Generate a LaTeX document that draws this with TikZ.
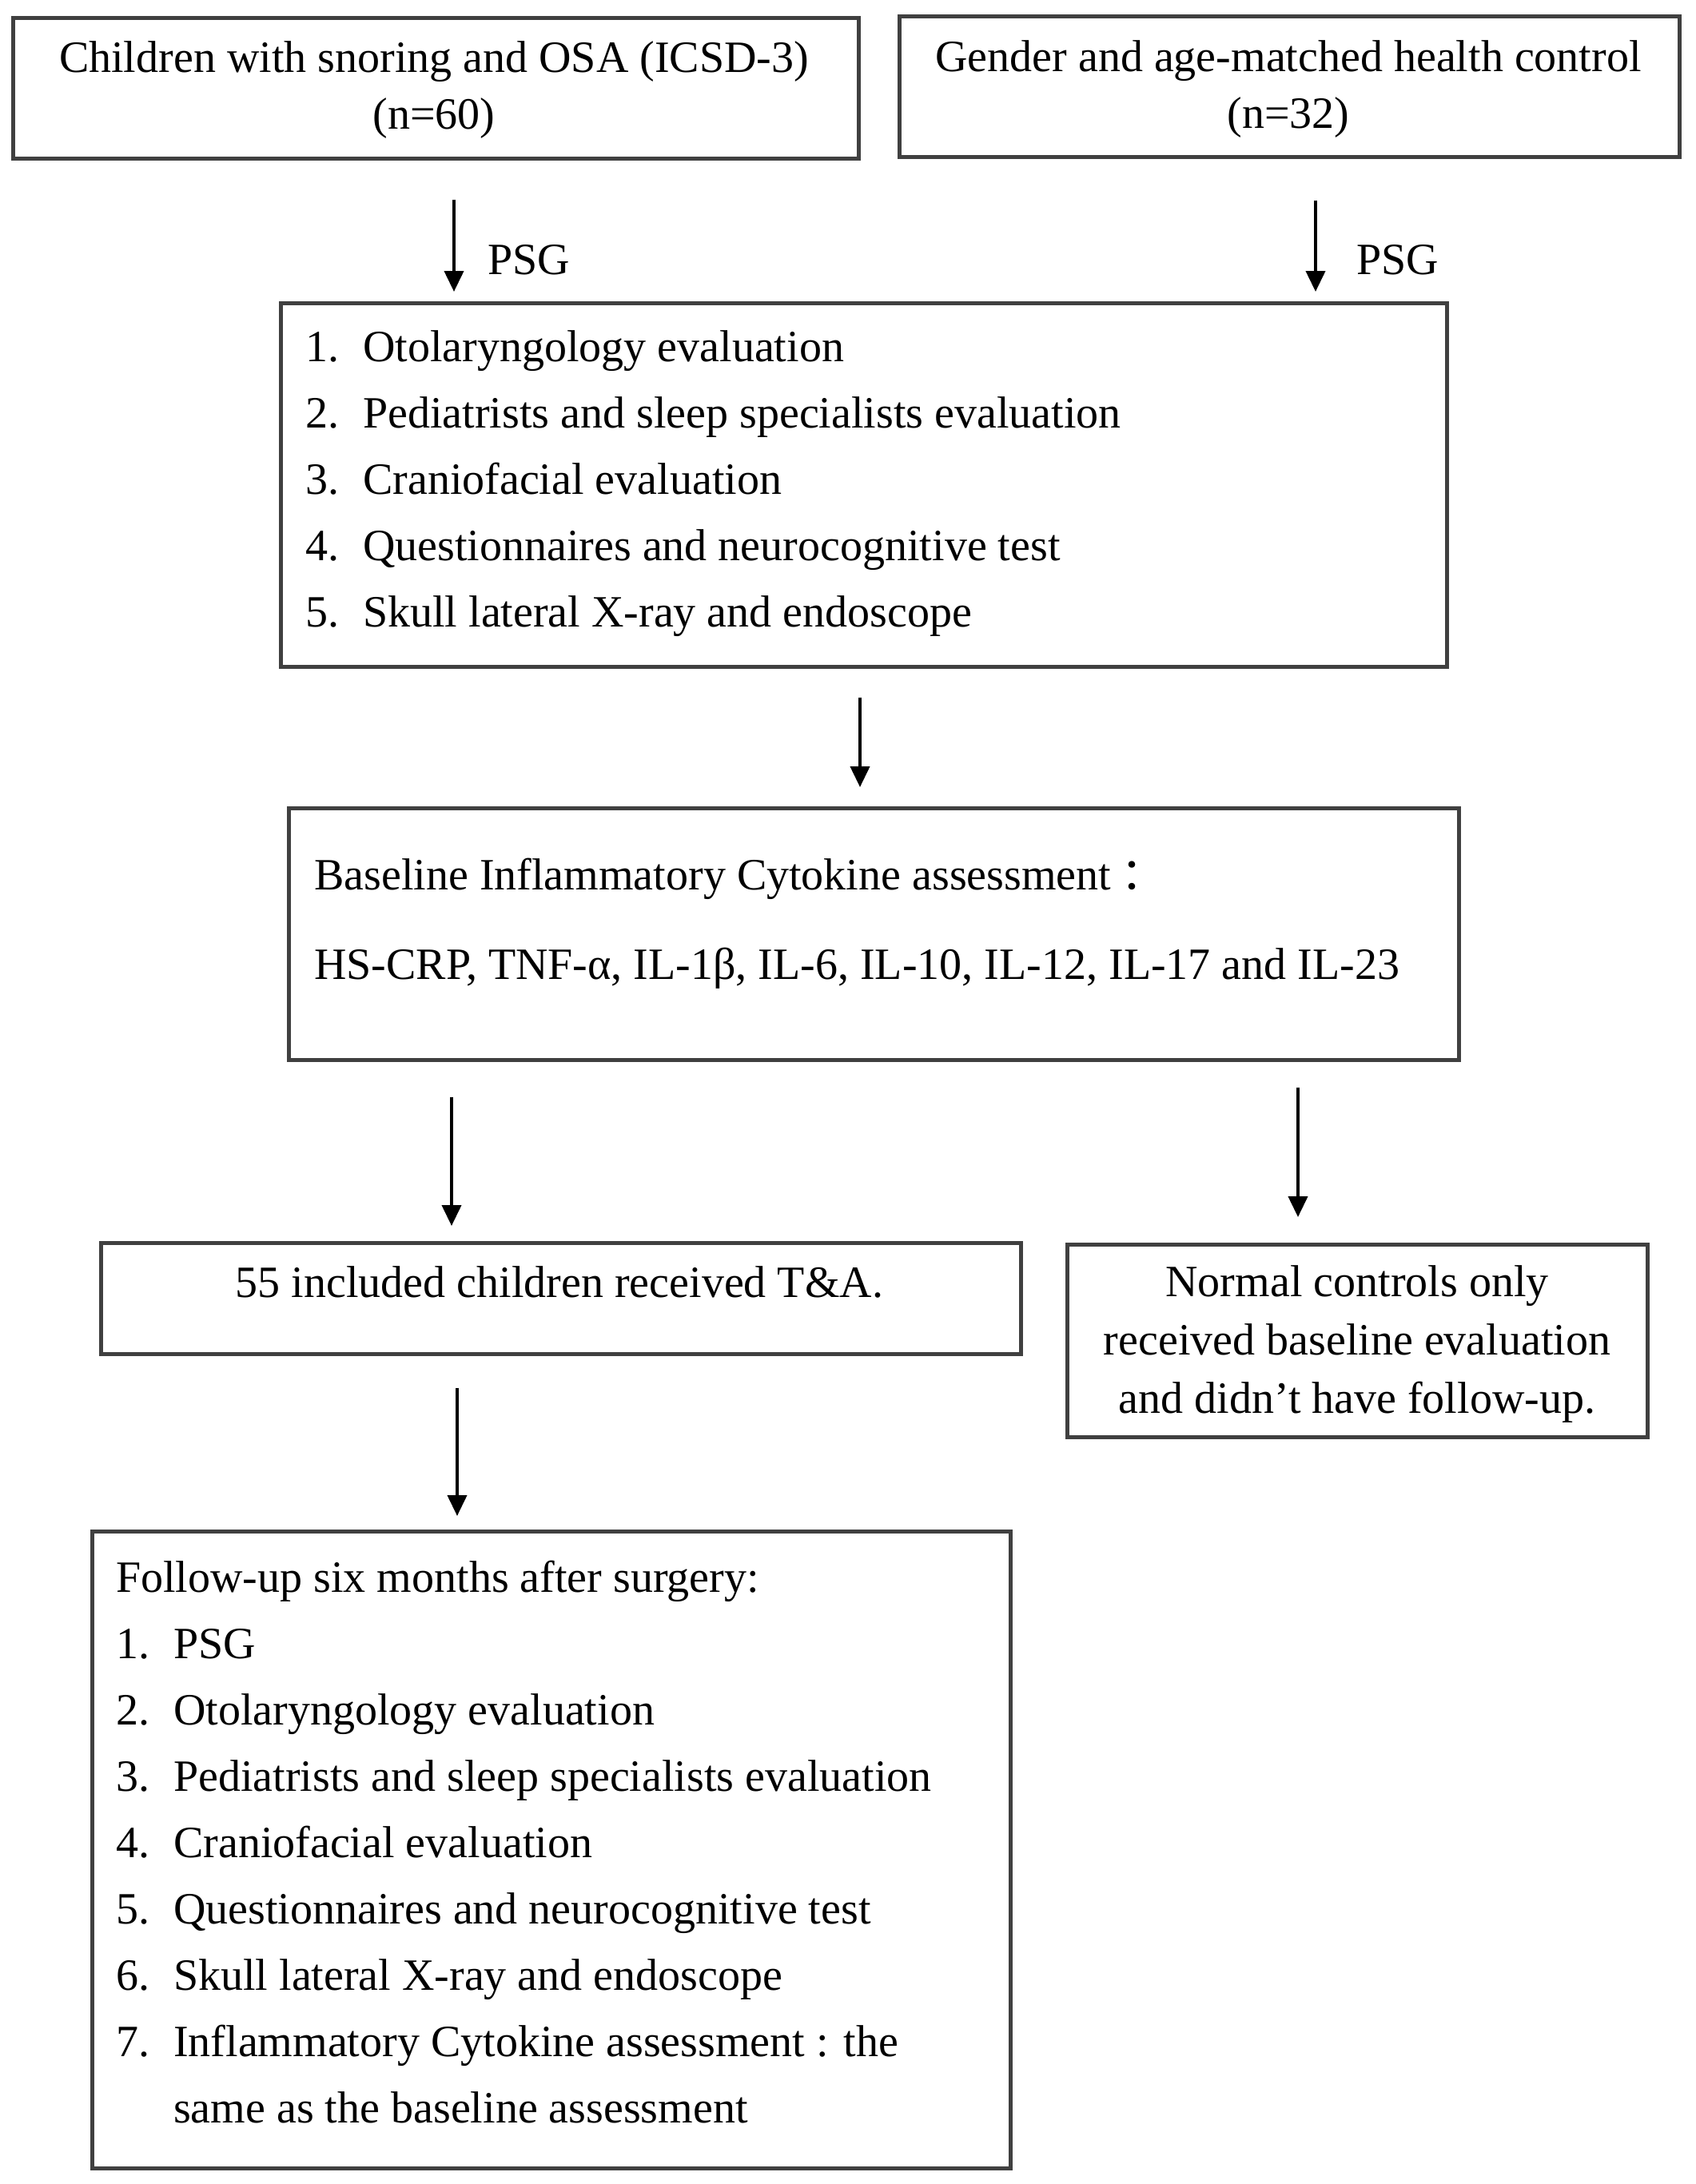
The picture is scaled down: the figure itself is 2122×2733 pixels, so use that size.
\documentclass[tikz,border=0pt]{standalone}
\usepackage{fontspec}
\setmainfont{Liberation Serif}
\newfontfamily\cjkfont{Noto Sans CJK SC}
\usetikzlibrary{arrows.meta}
\begin{document}
\begin{tikzpicture}[x=1pt,y=-1pt,
  box/.style={draw=black!75, line width=4.5pt, inner sep=0pt, anchor=north west},
  txt/.style={inner sep=0pt, font=\fontsize{56}{83}\selectfont},
  arr/.style={draw=black, line width=4pt, -{Triangle[length=26pt,width=24pt]}},
]
\useasboundingbox (0,0) rectangle (2122,2733);

% boxes
\node[box, minimum width=1058pt, minimum height=176pt] (A) at (14,20) {};
\node[box, minimum width=976pt, minimum height=176pt] (B) at (1123,18) {};
\node[box, minimum width=1459pt, minimum height=455pt] (C) at (349,377) {};
\node[box, minimum width=1464pt, minimum height=315pt] (D) at (359,1009) {};
\node[box, minimum width=1151pt, minimum height=139pt] (E) at (124,1553) {};
\node[box, minimum width=726pt, minimum height=241pt] (F) at (1333,1555) {};
\node[box, minimum width=1149pt, minimum height=797pt] (G) at (113,1914) {};

% texts
\node[txt, font=\fontsize{56}{71}\selectfont, anchor=base] (At) at (543,90)
  {\begin{tabular}[t]{@{}c@{}}Children with snoring and OSA (ICSD-3)\\(n=60)\end{tabular}};
\node[txt, font=\fontsize{56}{71}\selectfont, anchor=base] (Bt) at (1612,89)
  {\begin{tabular}[t]{@{}c@{}}Gender and age-matched health control\\(n=32)\end{tabular}};

\node[txt, anchor=base west] (Ct) at (382,452)
  {\begin{tabular}[t]{@{}p{72pt}@{}l@{}}
   1.&Otolaryngology evaluation\\
   2.&Pediatrists and sleep specialists evaluation\\
   3.&Craniofacial evaluation\\
   4.&Questionnaires and neurocognitive test\\
   5.&Skull lateral X-ray and endoscope
   \end{tabular}};

\node[txt, anchor=base west] (Dt) at (393,1113)
  {\begin{tabular}[t]{@{}l@{}}
   Baseline Inflammatory Cytokine assessment\hspace{12pt}{\cjkfont ：}\\[29pt]
   HS-CRP, TNF-α, IL-1β, IL-6, IL-10, IL-12, IL-17 and IL-23
   \end{tabular}};

\node[txt, anchor=base] (Et) at (700,1623) {55 included children received T\&A.};

\node[txt, font=\fontsize{56}{73}\selectfont, anchor=base] (Ft) at (1698,1622)
  {\begin{tabular}[t]{@{}c@{}}Normal controls only\\received baseline evaluation\\and didn’t have follow-up.\end{tabular}};

\node[txt, anchor=base west] (Gt) at (145,1992)
  {\begin{tabular}[t]{@{}p{72pt}@{}l@{}}
   \multicolumn{2}{@{}l@{}}{Follow-up six months after surgery:}\\
   1.&PSG\\
   2.&Otolaryngology evaluation\\
   3.&Pediatrists and sleep specialists evaluation\\
   4.&Craniofacial evaluation\\
   5.&Questionnaires and neurocognitive test\\
   6.&Skull lateral X-ray and endoscope\\
   7.&Inflammatory Cytokine assessment : the\\
   &same as the baseline assessment
   \end{tabular}};

\node[txt, anchor=base west] (psgL) at (610,343) {PSG};
\node[txt, anchor=base west] (psgR) at (1697,343) {PSG};

% arrow x positions
\coordinate (xAL) at (568,0);
\coordinate (xBR) at (1646,0);
\coordinate (xCD) at (1076,0);
\coordinate (xDE) at (565,0);
\coordinate (xDF) at (1624,0);
\coordinate (xEG) at (572,0);

\draw[arr, shorten <=49pt, shorten >=12pt] (A.south -| xAL) -- (C.north -| xAL);
\draw[arr, shorten <=52pt, shorten >=12pt] (B.south -| xBR) -- (C.north -| xBR);
\draw[arr, shorten <=36pt, shorten >=24pt] (C.south -| xCD) -- (D.north -| xCD);
\draw[arr, shorten <=44pt, shorten >=19pt] (D.south -| xDE) -- (E.north -| xDE);
\draw[arr, shorten <=32pt, shorten >=32pt] (D.south -| xDF) -- (F.north -| xDF);
\draw[arr, shorten <=40pt, shorten >=17pt] (E.south -| xEG) -- (G.north -| xEG);
\end{tikzpicture}
\end{document}
